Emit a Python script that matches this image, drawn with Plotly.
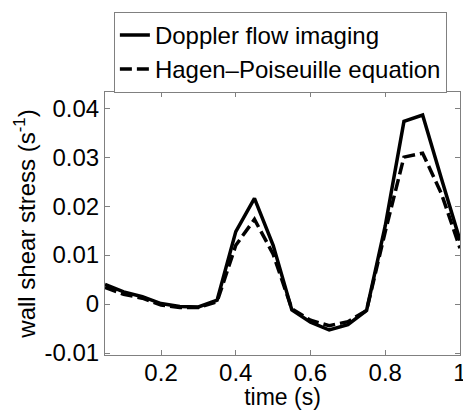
import plotly.graph_objects as go

time = [0.05, 0.10, 0.15, 0.20, 0.25, 0.30, 0.35, 0.40, 0.45, 0.50,
        0.55, 0.60, 0.65, 0.70, 0.75, 0.80, 0.85, 0.90, 0.95, 1.00]
doppler = [0.0040, 0.0025, 0.0015, 0.0001, -0.0005, -0.0006, 0.0008, 0.0148, 0.0216, 0.0120,
           -0.0012, -0.0037, -0.0053, -0.0042, -0.0013, 0.0160, 0.0373, 0.0386, 0.0257, 0.0130]
hagen = [0.0034, 0.0020, 0.0012, -0.0002, -0.0007, -0.0007, 0.0005, 0.0120, 0.0173, 0.0102,
         -0.0010, -0.0033, -0.0044, -0.0036, -0.0013, 0.0148, 0.0300, 0.0308, 0.0226, 0.0114]
xticks = [0.2, 0.4, 0.6, 0.8, 1.0]
xticklabels = ["0.2", "0.4", "0.6", "0.8", "1"]
yticks = [-0.01, 0, 0.01, 0.02, 0.03, 0.04]
yticklabels = ["-0.01", "0", "0.01", "0.02", "0.03", "0.04"]

FONT = "Liberation Sans, Arial, sans-serif"
FS = 24

fig = go.Figure()
fig.add_trace(go.Scatter(x=time, y=doppler, mode="lines", name="Doppler flow imaging",
                         line=dict(color="black", width=3.5)))
fig.add_trace(go.Scatter(x=time, y=hagen, mode="lines", name="Hagen\u2013Poiseuille equation",
                         line=dict(color="black", width=3.5, dash="12px,5px")))

axis_common = dict(showgrid=False, zeroline=False, showline=True, linecolor="#808080",
                   linewidth=1, mirror="ticks", ticks="inside", ticklen=5, tickcolor="#808080",
                   tickfont=dict(family=FONT, size=FS, color="black"),
                   ticklabeloverflow="allow", automargin=False)

fig.update_layout(
    width=463, height=410,
    margin=dict(l=105, r=3, t=92, b=55),
    paper_bgcolor="white", plot_bgcolor="white",
    font=dict(family=FONT, size=FS, color="black"),
    xaxis=dict(range=[0.05, 1.0], tickvals=xticks, ticktext=xticklabels,
               ticklabelstandoff=-4,
               title=dict(text="time (s)", standoff=0, font=dict(size=23)), **axis_common),
    yaxis=dict(range=[-0.0104, 0.0433], tickvals=yticks, ticktext=yticklabels,
               title=dict(text="wall shear stress (s<sup>-1</sup>)", standoff=2, font=dict(size=FS)),
               **axis_common),
    legend=dict(x=0.025, y=1.305, xanchor="left", yanchor="top",
                bordercolor="#808080", borderwidth=1, bgcolor="white",
                font=dict(family=FONT, size=FS, color="black"),
                tracegroupgap=0, itemwidth=30),
    showlegend=True,
)

fig.write_html("out.html")
